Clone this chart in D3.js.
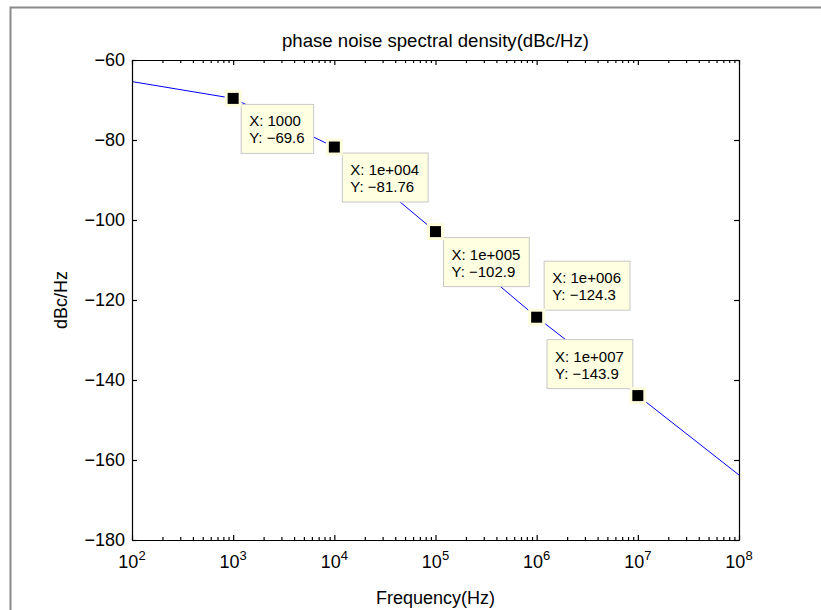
<!DOCTYPE html>
<html lang="en">
<meta charset="utf-8">

<head>
    <title>phase noise spectral density</title>
    <script src="https://d3js.org/d3.v7.min.js"></script>
    <style>
        body { margin: 0; background: #fff; }
        text { font-family: "Liberation Sans", Arial, Helvetica, sans-serif; }
    </style>
</head>

<body>
    <div id="plot"></div>
    <script>
        // curve (Hz, dBc/Hz)
        var lineFreq = [1e2, 1e3, 1e4, 1e5, 1e6, 1e7, 1e8];
        var lineDb = [-65.4, -69.6, -81.76, -102.9, -124.3, -143.9, -163.75];

        // data tips
        var tipFreq = [1e3, 1e4, 1e5, 1e6, 1e7];
        var tipDb = [-69.6, -81.76, -102.9, -124.3, -143.9];
        var tipXText = ["1000", "1e+004", "1e+005", "1e+006", "1e+007"];
        var tipYText = ["\u221269.6", "\u221281.76", "\u2212102.9", "\u2212124.3", "\u2212143.9"];

        var xDecades = [2, 3, 4, 5, 6, 7, 8];
        var yTicks = [-180, -160, -140, -120, -100, -80, -60];

        var title = "phase noise spectral density(dBc/Hz)";
        var xTitle = "Frequency(Hz)";
        var yTitle = "dBc/Hz";

        var W = 821, H = 610;
        var margin = { left: 132, right: 739, top: 60, bottom: 540 };

        var svg = d3.select("#plot").append("svg")
            .attr("width", W)
            .attr("height", H);

        svg.append("rect").attr("width", W).attr("height", H).attr("fill", "#fff");

        // figure frame (only left and top visible)
        svg.append("path")
            .attr("d", "M10.5," + H + "V7.5H" + W)
            .attr("fill", "none")
            .attr("stroke", "#8a8a8a")
            .attr("stroke-width", 2);

        var x = d3.scaleLog().domain([1e2, 1e8]).range([margin.left, margin.right]);
        var y = d3.scaleLinear().domain([-180, -60]).range([margin.bottom, margin.top]);

        var majors = xDecades.map(function (e) { return Math.pow(10, e); });
        var minors = [];
        for (var e = 2; e < 8; e++) {
            for (var m = 2; m <= 9; m++) minors.push(m * Math.pow(10, e));
        }

        // plot line
        var lineData = lineFreq.map(function (f, i) { return [f, lineDb[i]]; });
        svg.append("path")
            .datum(lineData)
            .attr("fill", "none")
            .attr("stroke", "#0000ff")
            .attr("stroke-width", 1)
            .attr("d", d3.line().x(function (d) { return x(d[0]); }).y(function (d) { return y(d[1]); }));

        function styleAxis(g) {
            g.selectAll("path, line").attr("stroke", "#000").attr("stroke-width", 1.2);
            g.selectAll("text").remove();
        }

        // x axes, bottom and top, ticks inward
        svg.append("g").attr("transform", "translate(0," + margin.bottom + ")")
            .call(d3.axisBottom(x).tickValues(majors).tickSize(-5).tickSizeOuter(0).tickFormat(""))
            .call(styleAxis);
        svg.append("g").attr("transform", "translate(0," + margin.bottom + ")")
            .call(d3.axisBottom(x).tickValues(minors).tickSize(-3).tickSizeOuter(0).tickFormat(""))
            .call(styleAxis);
        svg.append("g").attr("transform", "translate(0," + margin.top + ")")
            .call(d3.axisTop(x).tickValues(majors).tickSize(-5).tickSizeOuter(0).tickFormat(""))
            .call(styleAxis);
        svg.append("g").attr("transform", "translate(0," + margin.top + ")")
            .call(d3.axisTop(x).tickValues(minors).tickSize(-3).tickSizeOuter(0).tickFormat(""))
            .call(styleAxis);

        // y axes, left and right
        var yAxisL = svg.append("g").attr("transform", "translate(" + margin.left + ",0)")
            .call(d3.axisLeft(y).tickValues(yTicks).tickSize(-5).tickSizeOuter(0).tickPadding(7));
        yAxisL.selectAll("path, line").attr("stroke", "#000").attr("stroke-width", 1.2);
        yAxisL.selectAll("text")
            .attr("fill", "#000")
            .style("font-size", "18px")
            .style("font-family", "'Liberation Sans', Arial, sans-serif");
        svg.append("g").attr("transform", "translate(" + margin.right + ",0)")
            .call(d3.axisRight(y).tickValues(yTicks).tickSize(-5).tickSizeOuter(0).tickFormat(""))
            .call(styleAxis);

        // x tick labels 10^n
        var xl = svg.append("g").selectAll("text")
            .data(xDecades)
            .enter().append("text")
            .attr("x", function (d) { return x(Math.pow(10, d)); })
            .attr("y", 568)
            .attr("text-anchor", "middle")
            .attr("fill", "#000")
            .style("font-size", "18px");
        xl.append("tspan").text("10");
        xl.append("tspan").attr("dy", -8).style("font-size", "13px").text(function (d) { return d; });

        // titles
        svg.append("text")
            .attr("x", (margin.left + margin.right) / 2).attr("y", 46.5)
            .attr("text-anchor", "middle")
            .style("font-size", "18.6px")
            .text(title);
        svg.append("text")
            .attr("x", (margin.left + margin.right) / 2).attr("y", 604)
            .attr("text-anchor", "middle")
            .style("font-size", "18px")
            .text(xTitle);
        svg.append("text")
            .attr("transform", "translate(67," + (margin.top + margin.bottom) / 2 + ") rotate(-90)")
            .attr("text-anchor", "middle")
            .style("font-size", "18px")
            .text(yTitle);

        // data tip boxes: offset of box corner from marker
        var tipPlace = ["br", "br", "br", "tr", "tl"];
        var boxH = 49;

        tipFreq.forEach(function (f, i) {
            var mx = x(f), my = y(tipDb[i]);
            var g = svg.append("g");
            var box = g.append("rect")
                .attr("fill", "#ffffe1")
                .attr("stroke", "#c8c8c8")
                .attr("stroke-width", 1);
            var t1 = g.append("text").style("font-size", "15px").text("X: " + tipXText[i]);
            var t2 = g.append("text").style("font-size", "15px").text("Y: " + tipYText[i]);
            var tw = Math.max(t1.node().getComputedTextLength(), t2.node().getComputedTextLength());
            var bw = tw + 17;
            var bx, by;
            if (tipPlace[i] == "br") { bx = mx + 8; by = my + 6; }
            else if (tipPlace[i] == "tr") { bx = mx + 7.5; by = my - 7 - boxH; }
            else { bx = mx - 5 - bw; by = my - 7 - boxH; }
            box.attr("x", bx).attr("y", by).attr("width", bw).attr("height", boxH);
            t1.attr("x", bx + 8).attr("y", by + 22);
            t2.attr("x", bx + 8).attr("y", by + 39);

            // marker with pale halo
            svg.append("rect")
                .attr("x", mx - 8.5).attr("y", my - 8.5)
                .attr("width", 17).attr("height", 17)
                .attr("fill", "#fdfdde");
            svg.append("rect")
                .attr("x", mx - 5.5).attr("y", my - 5.5)
                .attr("width", 11).attr("height", 11)
                .attr("fill", "#000");
        });
    </script>

</body>

</html>
